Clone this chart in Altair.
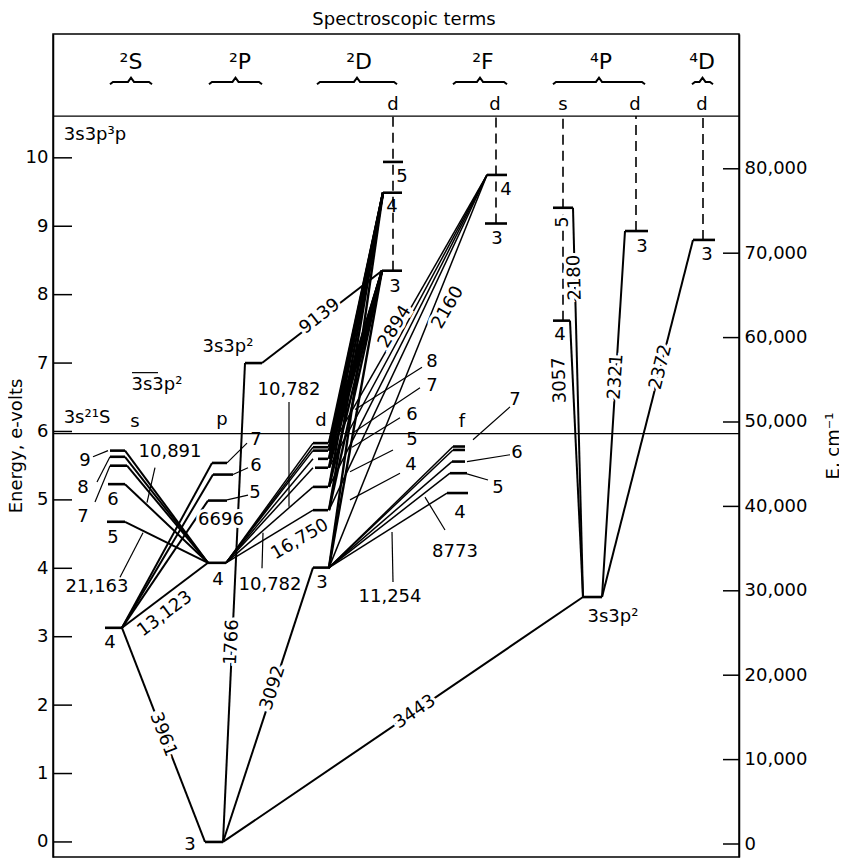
import altair as alt
import pandas as pd

FONT = "DejaVu Sans"
E_DOMAIN = [-0.22, 11.81]        # energy range of the plot, eV
X_DOMAIN = [0, 686]              # horizontal diagram position
CM_DOMAIN = [-1540, 95970]       # right axis range, cm^-1
IONIZATION_EV = 5.97             # 3s2 1S limit
UPPER_LIMIT_EV = 10.61           # 3s3p 3P limit

# ---- energy levels: (x start, x end, energy eV) ----
S_LEVELS = [(52, 69, 3.13), (54, 72, 4.68), (55, 72, 5.23), (57, 74, 5.50), (57, 72, 5.63), (57, 72, 5.72)]
P_LEVELS = [(152, 170, 0.00), (155, 173, 4.08), (155, 174, 4.99), (160, 180, 5.37), (159, 174, 5.54)]
P_EXCITED = [(192, 209, 7.00)]
D_LEVELS = [(260, 277, 4.01), (260, 275, 4.85), (260, 275, 5.19), (262, 275, 5.47), (265, 275, 5.60),
            (260, 275, 5.72), (260, 275, 5.77), (260, 275, 5.83)]
F_LEVELS = [(394, 415, 5.10), (397, 414, 5.39), (399, 412, 5.56), (400, 412, 5.73), (400, 412, 5.78)]
D_UPPER = [(329, 349, 8.35), (330, 349, 9.49), (330, 350, 9.94)]
F_UPPER = [(434, 454, 9.75), (432, 454, 9.04)]
QP_LEVELS = [(530, 549, 3.58), (500, 517, 7.62), (500, 520, 9.27), (572, 595, 8.93)]
QD_LEVELS = [(640, 662, 8.80)]

# ---- single transitions: (x1, E1, x2, E2) ----
TRANSITIONS = [
    (69, 3.13, 152, 0.00),    # 3961
    (170, 0.00, 192, 7.00),   # 1766
    (170, 0.00, 260, 4.01),   # 3092
    (170, 0.00, 530, 3.58),   # 3443
    (69, 3.13, 155, 4.08),    # 13,123
    (209, 7.00, 329, 8.35),   # 9139
    (530, 3.58, 517, 7.62),   # 3057
    (530, 3.58, 520, 9.27),   # 2180
    (549, 3.58, 572, 8.93),   # 2321
    (549, 3.58, 640, 8.80),   # 2372
]
S_TO_4P = [(72, 4.68), (72, 5.23), (74, 5.50), (72, 5.63), (72, 5.72)]
P4_POINT = (155, 4.08)
S4_POINT = (69, 3.13)
S4_TO_P = [(155, 4.99), (160, 5.37), (159, 5.54)]
P4_RIGHT = (173, 4.08)
D_LEFT_X = 260
D_RIGHT_X = 276
D_TARGETS = [(329, 8.35), (330, 9.49)]
F4_UPPER = (434, 9.75)
TO_F4_FROM = [4.01, 4.85, 5.19, 5.47, 5.72]
F_STARTS = [(394, 5.10), (397, 5.39), (399, 5.56), (400, 5.73), (400, 5.78)]

# ---- leader lines: (x1, E1, x2, E2) ----
LEADERS = [
    (40, 5.63, 55, 5.72), (44, 5.26, 57, 5.63), (42, 4.97, 57, 5.50),
    (102, 5.47, 94, 4.96), (67, 3.87, 90, 4.52),
    (174, 5.00, 195, 5.07), (180, 5.37, 195, 5.47), (174, 5.54, 194, 5.83),
    (236, 6.43, 236, 4.90), (210, 4.52, 209, 4.00),
    (369, 6.94, 302, 6.32), (367, 6.64, 300, 5.98), (347, 6.20, 299, 5.77),
    (340, 5.73, 297, 5.41), (347, 5.39, 297, 5.00),
    (340, 3.80, 339, 4.53), (392, 4.56, 372, 5.04),
    (414, 5.38, 435, 5.29), (414, 5.56, 457, 5.66), (420, 5.88, 457, 6.36),
]
OVERLINE = [(79, 6.86, 105, 6.86)]

# ---- dashed series lines: (x, lowest level eV) up to the upper limit ----
DASHED = [(340, 8.35), (443, 9.04), (510, 7.62), (583, 8.93), (650, 8.80)]

# ---- braces over the term columns ----
BRACES = [(57, 99), (156, 209), (264, 344), (400, 454), (500, 592), (639, 660)]
BRACE_EV = 11.11

# ---- axis ticks ----
EV_TICKS = list(range(0, 11))
CM_TICKS = list(range(0, 80001, 10000))

# ---- text ----
LINE_LABELS = [  # x, eV, text, angle
    (110, 1.57, "3961", 69), (179, 2.92, "1766", 273), (220, 2.25, "3092", 288),
    (362, 1.90, "3443", 326), (112, 3.33, "13,123", 323), (247, 4.42, "16,750", 330),
    (267, 7.68, "9139", 322), (342, 7.53, "2894", 302), (395, 7.81, "2160", 300),
    (507, 6.75, "3057", 268), (522, 8.25, "2180", 268), (563, 6.80, "2321", 274),
    (608, 6.94, "2372", 284), (168, 4.71, "6696", 0), (510, 9.06, "5", 270),
]
PLAIN_LABELS = [  # x, eV, text
    (137, -0.04, "3"), (57, 2.91, "4"), (60, 4.44, "5"), (60, 5.00, "6"),
    (30, 4.75, "7"), (30, 5.18, "8"), (32, 5.57, "9"),
    (44, 3.73, "21,163"), (117, 5.70, "10,891"), (165, 3.83, "4"),
    (202, 5.10, "5"), (203, 5.50, "6"), (203, 5.88, "7"),
    (175, 7.24, "3s3p²"), (236, 6.61, "10,782"), (217, 3.76, "10,782"),
    (269, 3.79, "3"),
    (349, 9.72, "5"), (339, 9.28, "4"), (342, 8.11, "3"),
    (453, 9.53, "4"), (444, 8.82, "3"),
    (379, 7.02, "8"), (379, 6.67, "7"), (359, 6.24, "6"), (359, 5.88, "5"), (358, 5.51, "4"),
    (337, 3.58, "11,254"), (402, 4.24, "8773"),
    (407, 4.81, "4"), (445, 5.18, "5"), (464, 5.69, "6"), (462, 6.46, "7"),
    (560, 3.29, "3s3p²"), (507, 7.41, "4"), (589, 8.70, "3"), (654, 8.58, "3"),
    (34, 6.20, "3s²¹S"), (82, 6.14, "s"), (169, 6.17, "p"), (268, 6.15, "d"), (409, 6.14, "f"),
    (104, 6.68, "3s3p²"), (42, 10.34, "3s3p³p"),
    (340, 10.77, "d"), (442, 10.77, "d"), (510, 10.77, "s"), (582, 10.77, "d"), (649, 10.77, "d"),
]
TERM_LABELS = [(78, "²S"), (187, "²P"), (306, "²D"), (430, "²F"), (548, "⁴P"), (649, "⁴D")]
TERM_EV = 11.40

# ================= build tables =================
COLS = ["x1", "E1", "x2", "E2"]


def lv(rows):
    return [(a, e, b, e) for a, b, e in rows]


levels_df = pd.DataFrame(lv(S_LEVELS + P_LEVELS + P_EXCITED + D_LEVELS + F_LEVELS + D_UPPER
                            + F_UPPER + QP_LEVELS + QD_LEVELS), columns=COLS)
trans_rows = list(TRANSITIONS)
trans_rows += [(x, e, P4_POINT[0], P4_POINT[1]) for x, e in S_TO_4P]
trans_rows += [(S4_POINT[0], S4_POINT[1], x, e) for x, e in S4_TO_P]
trans_df = pd.DataFrame(trans_rows, columns=COLS)

thin_rows = [(P4_RIGHT[0], P4_RIGHT[1], D_LEFT_X, e) for _, _, e in D_LEVELS[1:]]
thin_rows += [(D_RIGHT_X, e, F4_UPPER[0], F4_UPPER[1]) for e in TO_F4_FROM]
thin_rows += [(D_RIGHT_X, D_LEVELS[0][2], x, e) for x, e in F_STARTS]
thin_df = pd.DataFrame(thin_rows, columns=COLS)

bundle_df = pd.DataFrame([(D_RIGHT_X, e, tx, te) for _, _, e in D_LEVELS for tx, te in D_TARGETS],
                         columns=COLS)
leader_df = pd.DataFrame(LEADERS + OVERLINE, columns=COLS)
limit_df = pd.DataFrame([(X_DOMAIN[0], IONIZATION_EV, X_DOMAIN[1], IONIZATION_EV),
                         (X_DOMAIN[0], UPPER_LIMIT_EV, X_DOMAIN[1], UPPER_LIMIT_EV)], columns=COLS)
dash_df = pd.DataFrame([(x, e, x, UPPER_LIMIT_EV) for x, e in DASHED], columns=COLS)
lt_df = pd.DataFrame([(0, v, 19, v) for v in EV_TICKS], columns=COLS)
rt_df = pd.DataFrame([(670, v, 686, v) for v in CM_TICKS], columns=COLS)

brace_pts = []
for i, (a, b) in enumerate(BRACES):
    m = (a + b) / 2
    pts = [(a, BRACE_EV - 0.035), (a + 3, BRACE_EV), (m - 3, BRACE_EV), (m, BRACE_EV + 0.06),
           (m + 3, BRACE_EV), (b - 3, BRACE_EV), (b, BRACE_EV - 0.035)]
    for k, (x, e) in enumerate(pts):
        brace_pts.append({"g": i, "k": k, "x": x, "E": e})
brace_df = pd.DataFrame(brace_pts)

line_lab_df = pd.DataFrame(LINE_LABELS, columns=["x", "E", "t", "a"])
plain_df = pd.DataFrame(PLAIN_LABELS, columns=["x", "E", "t"])
term_df = pd.DataFrame([(x, TERM_EV, t) for x, t in TERM_LABELS], columns=["x", "E", "t"])

# ================= encodings =================
XS = alt.Scale(domain=X_DOMAIN, nice=False, zero=False)
YS = alt.Scale(domain=E_DOMAIN, nice=False, zero=False)
YAX = alt.Axis(values=EV_TICKS, ticks=False, tickSize=0, labelPadding=5, labelFontSize=18,
               labelFont=FONT, titleFontSize=18, titleX=-37, titleBaseline="middle", grid=False)
YTITLE = "Energy, e-volts"


def xq(f):
    return alt.X(f, type="quantitative", scale=XS, axis=None)


def yq(f):
    return alt.Y(f, type="quantitative", scale=YS, axis=YAX, title=YTITLE)


def rules(df, width, dash=None):
    kw = dict(color="black", strokeWidth=width)
    if dash:
        kw["strokeDash"] = dash
    return alt.Chart(df).mark_rule(**kw).encode(
        x=xq("x1"), x2=alt.X2("x2"), y=yq("E1"), y2=alt.Y2("E2"))


layers = [
    rules(limit_df, 1.3),
    rules(lt_df, 1.5),
    rules(dash_df, 1.6, [10, 6]),
    rules(thin_df, 1.5),
    rules(trans_df, 2.0),
    rules(bundle_df, 2.4),
    rules(leader_df, 1.2),
    rules(levels_df, 2.6),
    alt.Chart(brace_df).mark_line(color="black", strokeWidth=2).encode(
        x=xq("x"), y=yq("E"), detail="g:N", order="k:Q"),
    alt.Chart(line_lab_df).mark_text(font=FONT, fontSize=18, color="white", stroke="white",
                                     strokeWidth=6, baseline="middle", align="center").encode(
        x=xq("x"), y=yq("E"), text="t:N", angle=alt.Angle("a:Q", scale=None)),
    alt.Chart(line_lab_df).mark_text(font=FONT, fontSize=18, color="black",
                                     baseline="middle", align="center").encode(
        x=xq("x"), y=yq("E"), text="t:N", angle=alt.Angle("a:Q", scale=None)),
    alt.Chart(plain_df).mark_text(font=FONT, fontSize=18, color="black",
                                  baseline="middle", align="center").encode(
        x=xq("x"), y=yq("E"), text="t:N"),
    alt.Chart(term_df).mark_text(font=FONT, fontSize=22, color="black",
                                 baseline="middle", align="center").encode(
        x=xq("x"), y=yq("E"), text="t:N"),
]
inner = alt.layer(*layers)

right = alt.Chart(rt_df).mark_rule(color="black", strokeWidth=1.5).encode(
    x=xq("x1"), x2=alt.X2("x2"),
    y=alt.Y("E1", type="quantitative", scale=alt.Scale(domain=CM_DOMAIN, nice=False, zero=False),
            axis=alt.Axis(orient="right", values=CM_TICKS, labelExpr="format(datum.value, ',')",
                          ticks=False, tickSize=0, labelPadding=5, labelFontSize=18, labelFont=FONT,
                          titleFontSize=18, titleX=94, titleBaseline="middle", titleAngle=270,
                          grid=False),
            title="E, cm⁻¹"))

chart = alt.layer(inner, right).resolve_scale(y="independent").properties(
    width=686, height=823,
    autosize=alt.AutoSizeParams(type="none"),
    padding={"left": 45, "top": 26, "right": 100, "bottom": 2},
    title=alt.TitleParams("Spectroscopic terms", font=FONT, fontSize=18, fontWeight="normal",
                          anchor="middle", frame="group", offset=5, dx=8, color="black"),
).configure_axis(
    labelColor="black", titleColor="black", domainColor="black", domainWidth=1.5,
    titleFont=FONT, titleFontWeight="normal",
).configure_view(stroke="black", strokeWidth=1.5)

chart.save("out.html", embed_options={"renderer": "svg", "actions": False})
